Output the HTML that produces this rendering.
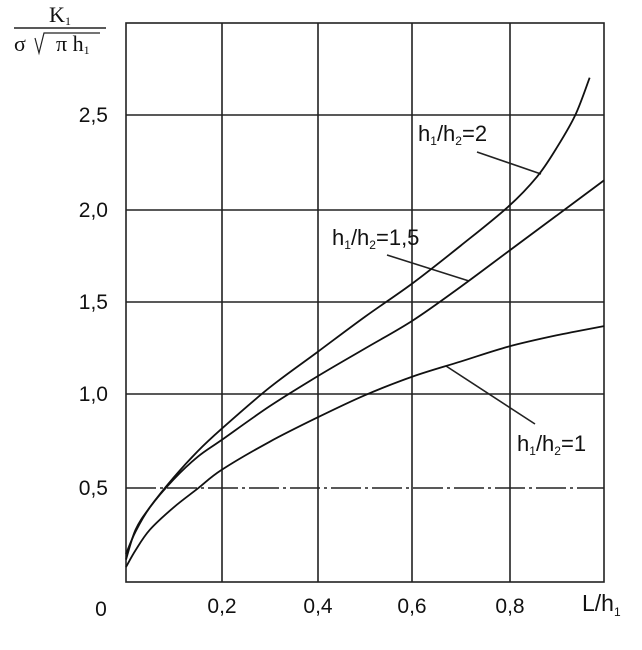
<!DOCTYPE html>
<html><head><meta charset="utf-8"><style>
html,body{margin:0;padding:0;background:#fff;}
svg{display:block;font-family:"Liberation Sans",sans-serif;}
</style></head><body>
<svg id="s" width="642" height="650" viewBox="0 0 642 650" xmlns="http://www.w3.org/2000/svg">
<g stroke="#222" stroke-width="1.6" fill="none">
<rect x="126" y="23" width="478" height="559"/>
<line x1="222" y1="23" x2="222" y2="582"/><line x1="318" y1="23" x2="318" y2="582"/>
<line x1="412" y1="23" x2="412" y2="582"/><line x1="510" y1="23" x2="510" y2="582"/>
<line x1="126" y1="115" x2="604" y2="115"/><line x1="126" y1="210" x2="604" y2="210"/>
<line x1="126" y1="302" x2="604" y2="302"/><line x1="126" y1="394" x2="604" y2="394"/>
<line x1="126" y1="488" x2="604" y2="488" stroke-dasharray="30 4 3 4"/>
<line x1="477" y1="152" x2="541" y2="174"/>
<line x1="387" y1="255" x2="469" y2="281"/>
<line x1="446" y1="366" x2="535" y2="424"/>
<line x1="14" y1="28" x2="106" y2="28"/>
<path d="M35 38 L39 53 L44 33 L100 33" stroke-width="1.2"/>
</g>
<g id="curves" stroke="#111" stroke-width="1.8" fill="none"></g>
<g fill="#111" font-size="21">
<text x="60" y="22" text-anchor="middle" font-family="Liberation Serif,serif" font-size="22">K<tspan font-size="12" dy="3">1</tspan></text>
<text x="14" y="51" font-family="Liberation Serif,serif" font-size="22">σ</text>
<text x="56" y="51" font-family="Liberation Serif,serif" font-size="22">π h<tspan font-size="12" dy="3">1</tspan></text>
<g text-anchor="end">
<text x="108" y="122">2,5</text><text x="108" y="217">2,0</text><text x="108" y="309">1,5</text>
<text x="108" y="401">1,0</text><text x="108" y="495">0,5</text>
</g>
<g text-anchor="middle">
<text x="101" y="616">0</text><text x="222" y="613">0,2</text><text x="318" y="613">0,4</text>
<text x="412" y="613">0,6</text><text x="510" y="613">0,8</text>
</g>
<text x="582" y="611" font-size="23">L/h<tspan font-size="12" dy="5">1</tspan></text>
<text x="418" y="141" font-size="22">h<tspan font-size="12" dy="4">1</tspan><tspan dy="-4">/h</tspan><tspan font-size="12" dy="4">2</tspan><tspan dy="-4">=2</tspan></text>
<text x="332" y="245" font-size="22">h<tspan font-size="12" dy="4">1</tspan><tspan dy="-4">/h</tspan><tspan font-size="12" dy="4">2</tspan><tspan dy="-4">=1,5</tspan></text>
<text x="517" y="451" font-size="22">h<tspan font-size="12" dy="4">1</tspan><tspan dy="-4">/h</tspan><tspan font-size="12" dy="4">2</tspan><tspan dy="-4">=1</tspan></text>
</g>
</svg>
<script>
var D=[
[[0,0.12],[0.02,0.28],[0.05,0.40],[0.1,0.56],[0.15,0.70],[0.2,0.82],[0.3,1.04],[0.4,1.23],[0.5,1.42],[0.6,1.60],[0.7,1.80],[0.8,2.01],[0.86,2.17],[0.9,2.32],[0.94,2.5],[0.97,2.7]],
[[0,0.15],[0.02,0.27],[0.05,0.40],[0.1,0.55],[0.15,0.67],[0.2,0.76],[0.3,0.94],[0.4,1.1],[0.5,1.25],[0.6,1.4],[0.7,1.58],[0.8,1.77],[0.9,1.96],[1.0,2.15]],
[[0,0.08],[0.02,0.17],[0.05,0.28],[0.1,0.40],[0.15,0.5],[0.2,0.6],[0.3,0.75],[0.4,0.88],[0.5,1.0],[0.6,1.1],[0.7,1.18],[0.8,1.26],[0.9,1.32],[1.0,1.37]]];
var g=document.getElementById('curves');
D.forEach(function(c){
 var p=c.map(function(q){return [126+q[0]*478,582-q[1]*186.8];});
 var d='M'+p[0][0]+' '+p[0][1];
 for(var i=0;i<p.length-1;i++){
  var a=p[i-1]||p[i],b=p[i],e=p[i+1],f=p[i+2]||e;
  d+=' C'+(b[0]+(e[0]-a[0])/6)+' '+(b[1]+(e[1]-a[1])/6)+' '+(e[0]-(f[0]-b[0])/6)+' '+(e[1]-(f[1]-b[1])/6)+' '+e[0]+' '+e[1];
 }
 var el=document.createElementNS('http://www.w3.org/2000/svg','path');
 el.setAttribute('d',d);g.appendChild(el);
});
</script>
</body></html>
